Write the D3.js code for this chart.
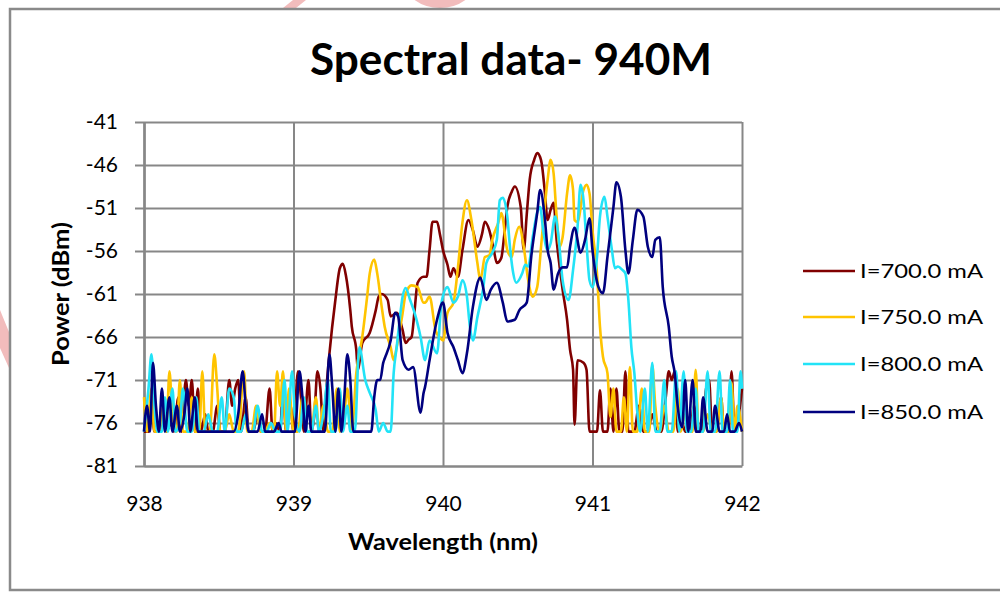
<!DOCTYPE html>
<html>
<head>
<meta charset="utf-8">
<script src="https://cdn.jsdelivr.net/npm/d3@7"></script>
<style>
  body { margin: 0; background: #fff; }
  text { font-family: Lato, "Open Sans", sans-serif; fill: #000; }
</style>
</head>
<body>
<div id="chart"></div>
<script>
// Chart data (wavelength nm, power dBm)
var xTicks = [938, 939, 940, 941, 942];
var yTicks = [-81, -76, -71, -66, -61, -56, -51, -46, -41];
var seriesNames = ["I=700.0 mA", "I=750.0 mA", "I=800.0 mA", "I=850.0 mA"];
var seriesColors = ["#800000", "#ffc400", "#22e3f7", "#00007f"];

var series700 = [[938.00,-77],[938.03,-77],[938.05,-74],[938.07,-77],[938.10,-77],[938.13,-75],[938.15,-77],[938.18,-76],[938.20,-77],[938.23,-73],[938.25,-77],[938.28,-71],[938.30,-74],[938.32,-71],[938.34,-77],[938.36,-72],[938.38,-77],[938.41,-75],[938.43,-77],[938.46,-77],[938.49,-74],[938.51,-77],[938.54,-77],[938.57,-71],[938.59,-74],[938.61,-72],[938.63,-71],[938.65,-77],[938.68,-73],[938.70,-77],[938.73,-77],[938.76,-75],[938.78,-77],[938.81,-77],[938.84,-72],[938.86,-77],[938.88,-76],[938.91,-77],[938.93,-72],[938.95,-77],[938.98,-74],[939.00,-77],[939.03,-70],[939.05,-73],[939.07,-77],[939.10,-71],[939.12,-77],[939.14,-75],[939.16,-70],[939.18,-72],[939.20,-77],[939.22,-72],[939.24,-68],[939.28,-61.7],[939.31,-58],[939.33,-57.5],[939.35,-58.8],[939.38,-62.9],[939.39,-64.8],[939.42,-67.5],[939.43,-69.8],[939.46,-66.7],[939.51,-65.5],[939.55,-62.9],[939.57,-61.3],[939.59,-61],[939.63,-61.7],[939.65,-63.6],[939.69,-63.2],[939.73,-65.2],[939.75,-66.7],[939.77,-66.3],[939.79,-66],[939.81,-62.9],[939.83,-59.7],[939.87,-59],[939.89,-59],[939.91,-55.9],[939.93,-52.6],[939.96,-52.6],[939.98,-54.1],[940.00,-55.9],[940.03,-57.6],[940.05,-59],[940.07,-58],[940.10,-59],[940.13,-55.9],[940.17,-52.4],[940.20,-53.6],[940.23,-55.5],[940.26,-54.1],[940.28,-52.6],[940.31,-53.6],[940.34,-55.9],[940.36,-57.4],[940.39,-56.8],[940.41,-54.1],[940.43,-50.9],[940.46,-49.1],[940.48,-48.5],[940.52,-50.9],[940.54,-55.9],[940.56,-51.8],[940.58,-47.7],[940.61,-45.4],[940.63,-44.6],[940.65,-45.1],[940.66,-45.8],[940.68,-48.9],[940.70,-52.4],[940.72,-51.2],[940.74,-50.4],[940.76,-54.7],[940.78,-57.8],[940.80,-60.5],[940.83,-64],[940.85,-67.5],[940.87,-69.8],[940.88,-76.2],[940.90,-68.7],[940.94,-69],[940.96,-69.8],[940.98,-77],[941.03,-77],[941.05,-72.2],[941.07,-77],[941.10,-77],[941.12,-72],[941.14,-77],[941.16,-72],[941.18,-77],[941.20,-77],[941.22,-70],[941.24,-77],[941.28,-77],[941.31,-74],[941.34,-77],[941.37,-77],[941.40,-75],[941.43,-77],[941.46,-77],[941.49,-73],[941.51,-70],[941.53,-71],[941.55,-70],[941.57,-77],[941.60,-76],[941.62,-77],[941.65,-77],[941.68,-74],[941.70,-77],[941.73,-77],[941.76,-72],[941.78,-71],[941.80,-77],[941.83,-77],[941.86,-73],[941.88,-77],[941.91,-77],[941.93,-70],[941.95,-77],[941.97,-76],[942.00,-72]];

var series750 = [[938.00,-73],[938.02,-77],[938.05,-72],[938.07,-77],[938.10,-77],[938.13,-74],[938.15,-77],[938.17,-70],[938.19,-75],[938.22,-77],[938.24,-71],[938.26,-77],[938.29,-77],[938.32,-73],[938.34,-77],[938.37,-77],[938.39,-70],[938.41,-77],[938.44,-77],[938.47,-68],[938.49,-72],[938.51,-77],[938.54,-77],[938.57,-75],[938.60,-77],[938.63,-77],[938.67,-70],[938.69,-77],[938.72,-77],[938.75,-74],[938.78,-77],[938.81,-77],[938.84,-76],[938.87,-77],[938.89,-70],[938.91,-74],[938.93,-70],[938.95,-77],[938.97,-72],[939.00,-77],[939.03,-77],[939.06,-73],[939.09,-77],[939.12,-77],[939.15,-73],[939.17,-77],[939.20,-74],[939.23,-77],[939.26,-77],[939.29,-72],[939.31,-77],[939.34,-75],[939.36,-72],[939.39,-77],[939.42,-70.2],[939.46,-66],[939.49,-61.7],[939.51,-58.6],[939.54,-57],[939.56,-58.6],[939.59,-62.5],[939.61,-64.8],[939.65,-67.2],[939.67,-68.7],[939.69,-67.2],[939.73,-63.2],[939.75,-61],[939.79,-60],[939.83,-60.2],[939.87,-62],[939.88,-62],[939.91,-61.3],[939.95,-65.2],[939.98,-66.1],[940.00,-66.4],[940.03,-63.2],[940.07,-62],[940.10,-57.9],[940.13,-52.7],[940.16,-50.1],[940.19,-52.4],[940.23,-57.4],[940.25,-59.4],[940.28,-56.7],[940.31,-56.5],[940.33,-54.7],[940.37,-52.7],[940.39,-51.6],[940.43,-55.9],[940.46,-56.7],[940.48,-54.7],[940.51,-53.2],[940.54,-55.5],[940.57,-59.4],[940.60,-61.3],[940.63,-60.2],[940.66,-54.7],[940.70,-47.7],[940.72,-45.4],[940.74,-47],[940.76,-52],[940.78,-55.5],[940.80,-54.4],[940.83,-49.3],[940.85,-47.2],[940.87,-48.9],[940.88,-52.4],[940.90,-52.6],[940.94,-48.9],[940.96,-48.3],[940.98,-49.3],[941.00,-53.6],[941.03,-58.6],[941.05,-64.8],[941.07,-68.3],[941.10,-70.2],[941.12,-75.3],[941.14,-72],[941.16,-77],[941.19,-77],[941.21,-73],[941.23,-77],[941.25,-69.5],[941.27,-77],[941.30,-77],[941.33,-72],[941.35,-77],[941.38,-77],[941.40,-69.3],[941.42,-74],[941.45,-77],[941.48,-74],[941.51,-77],[941.54,-77],[941.57,-72],[941.59,-77],[941.62,-75],[941.65,-77],[941.67,-77],[941.69,-69.8],[941.71,-77],[941.74,-77],[941.77,-75],[941.80,-77],[941.83,-77],[941.86,-73],[941.88,-77],[941.91,-77],[941.93,-71.3],[941.95,-77],[941.97,-74],[942.00,-77]];

var series800 = [[938.00,-77],[938.03,-72],[938.05,-68],[938.07,-74],[938.09,-77],[938.12,-77],[938.14,-73],[938.16,-77],[938.19,-72],[938.21,-77],[938.24,-76],[938.26,-72],[938.29,-77],[938.32,-77],[938.35,-73],[938.37,-77],[938.40,-77],[938.43,-75],[938.46,-77],[938.49,-77],[938.52,-73],[938.54,-77],[938.57,-72],[938.60,-73],[938.62,-77],[938.65,-77],[938.68,-75],[938.70,-77],[938.73,-77],[938.76,-74],[938.79,-77],[938.82,-77],[938.85,-76],[938.88,-77],[938.91,-77],[938.94,-71],[938.96,-77],[938.99,-70],[939.01,-75],[939.04,-77],[939.07,-73],[939.09,-77],[939.12,-77],[939.15,-74],[939.17,-77],[939.20,-75],[939.23,-71],[939.25,-77],[939.28,-77],[939.31,-72],[939.33,-77],[939.36,-74],[939.38,-77],[939.41,-77],[939.44,-67.2],[939.48,-71],[939.51,-72.5],[939.55,-74.5],[939.57,-77],[939.60,-76],[939.63,-77],[939.65,-77],[939.67,-70.2],[939.69,-67.2],[939.71,-64],[939.73,-61.3],[939.75,-60.3],[939.78,-61.7],[939.81,-63.2],[939.85,-66],[939.88,-68.7],[939.91,-66.4],[939.96,-67.9],[939.99,-62],[940.03,-60.2],[940.07,-62],[940.10,-61.3],[940.13,-59.4],[940.16,-61.3],[940.18,-64.8],[940.20,-66.4],[940.23,-63.7],[940.27,-60.2],[940.29,-57.4],[940.33,-56.2],[940.36,-54.7],[940.38,-50.1],[940.40,-49.8],[940.43,-52],[940.45,-55.9],[940.47,-58.6],[940.49,-59.7],[940.53,-58.6],[940.55,-57.6],[940.57,-57.8],[940.60,-54.4],[940.63,-51.5],[940.65,-50.9],[940.67,-53.6],[940.70,-55.9],[940.72,-55.1],[940.75,-52],[940.77,-53.9],[940.80,-59.4],[940.84,-61.7],[940.87,-58.2],[940.90,-53.2],[940.92,-48.3],[940.94,-50.1],[940.96,-55.1],[940.98,-59.4],[941.00,-60.2],[941.03,-56.7],[941.05,-52],[941.08,-49.7],[941.10,-52],[941.13,-55.9],[941.15,-58],[941.17,-57.8],[941.20,-58.2],[941.22,-58.6],[941.24,-61.7],[941.26,-67.2],[941.28,-70.2],[941.30,-74.8],[941.32,-77],[941.35,-72],[941.37,-77],[941.40,-69],[941.42,-77],[941.45,-77],[941.48,-71],[941.50,-77],[941.53,-77],[941.56,-70],[941.58,-77],[941.61,-70],[941.63,-77],[941.66,-77],[941.69,-72],[941.71,-77],[941.74,-77],[941.77,-70],[941.79,-77],[941.82,-77],[941.85,-70],[941.87,-77],[941.90,-77],[941.92,-71],[941.94,-77],[941.97,-77],[941.99,-70],[942.00,-72]];

var series850 = [[938.00,-77],[938.02,-74],[938.04,-77],[938.06,-69],[938.08,-74],[938.10,-77],[938.12,-72],[938.14,-77],[938.17,-73],[938.19,-77],[938.22,-74],[938.24,-77],[938.27,-75],[938.29,-72],[938.31,-77],[938.34,-73],[938.36,-77],[938.39,-77],[938.42,-77],[938.45,-77],[938.48,-77],[938.51,-77],[938.54,-77],[938.57,-77],[938.60,-77],[938.63,-75],[938.66,-70],[938.68,-74],[938.70,-77],[938.73,-77],[938.76,-77],[938.79,-75],[938.81,-77],[938.84,-77],[938.87,-77],[938.90,-76],[938.92,-77],[938.95,-77],[938.98,-77],[939.01,-77],[939.04,-70],[939.06,-73],[939.08,-77],[939.10,-74],[939.12,-77],[939.15,-77],[939.18,-77],[939.21,-77],[939.24,-68],[939.26,-72],[939.28,-77],[939.30,-72],[939.32,-77],[939.34,-73],[939.36,-68],[939.38,-71],[939.40,-77],[939.43,-77],[939.46,-77],[939.49,-77],[939.52,-77],[939.54,-73],[939.56,-71],[939.58,-71],[939.60,-69],[939.61,-68.5],[939.65,-66.4],[939.68,-63.2],[939.70,-63.6],[939.73,-68.7],[939.77,-69.8],[939.80,-69.5],[939.85,-74.8],[939.87,-72.5],[939.88,-71.8],[939.91,-68.7],[939.96,-64],[940.00,-62],[940.03,-65.5],[940.07,-67.2],[940.10,-68.7],[940.13,-70.2],[940.16,-67.9],[940.20,-62.5],[940.25,-59.1],[940.29,-61.7],[940.32,-60.5],[940.36,-59.7],[940.40,-62],[940.43,-64.2],[940.48,-64],[940.51,-62.9],[940.56,-62],[940.59,-56.7],[940.63,-51.6],[940.65,-48.9],[940.68,-52],[940.70,-55.9],[940.72,-57.4],[940.74,-60.5],[940.77,-58.6],[940.80,-57.9],[940.83,-57.9],[940.85,-55.5],[940.88,-53.3],[940.92,-56.2],[940.95,-54.7],[940.98,-52.2],[941.00,-55.9],[941.04,-60.2],[941.07,-60.9],[941.10,-56.7],[941.14,-50.9],[941.16,-48],[941.19,-49.7],[941.22,-55.9],[941.24,-58.6],[941.27,-54.7],[941.30,-51.2],[941.34,-52],[941.37,-55.5],[941.40,-56.7],[941.42,-54.7],[941.45,-54.4],[941.47,-60.2],[941.51,-64.8],[941.53,-68.3],[941.55,-70.2],[941.57,-74.1],[941.60,-76.5],[941.62,-71],[941.64,-77],[941.67,-71],[941.69,-77],[941.72,-77],[941.74,-73],[941.77,-77],[941.80,-77],[941.82,-74],[941.85,-77],[941.88,-77],[941.90,-75],[941.92,-77],[941.95,-77],[941.98,-76],[942.00,-77]];

var allSeries = [series700, series750, series800, series850];

// Define SVG area and plot box
var svgWidth = 1000;
var svgHeight = 593;
var margin = { top: 122, right: 258, bottom: 127, left: 144 };
var chartWidth = svgWidth - margin.left - margin.right;
var chartHeight = svgHeight - margin.top - margin.bottom;
var gridColor = "#878787";

var svg = d3.select("#chart")
  .append("svg")
  .attr("width", svgWidth)
  .attr("height", svgHeight);

// Pale watermark fragments
svg.append("polygon")
  .attr("points", "293,0 306,0 296,8 283,8")
  .attr("fill", "#f2bcbc");
svg.append("circle")
  .attr("cx", 440).attr("cy", -36).attr("r", 40)
  .attr("fill", "none").attr("stroke", "#f2bcbc").attr("stroke-width", 8);
svg.append("polygon")
  .attr("points", "0,310 9,332 9,368 0,348")
  .attr("fill", "#f2bcbc");

// Outer frame
svg.append("rect")
  .attr("x", 10).attr("y", 9)
  .attr("width", 1000).attr("height", 581)
  .attr("fill", "none")
  .attr("stroke", "#8a8a8a")
  .attr("stroke-width", 2.5);

var chartGroup = svg.append("g")
  .attr("transform", `translate(${margin.left}, ${margin.top})`);

var xScale = d3.scaleLinear().domain([938, 942]).range([0, chartWidth]);
var yScale = d3.scaleLinear().domain([-81, -41]).range([chartHeight, 0]);

// Horizontal grid + y labels (plain hyphen minus, as in the original)
var yGrid = chartGroup.append("g")
  .call(d3.axisLeft(yScale).tickValues(yTicks).tickSize(-chartWidth).tickSizeOuter(0)
    .tickPadding(26).tickFormat(d => String(d)));
// outward tick marks
var yMarks = chartGroup.append("g")
  .call(d3.axisLeft(yScale).tickValues(yTicks).tickSize(9).tickSizeOuter(0).tickFormat(""));

// Vertical grid + x labels
var xGrid = chartGroup.append("g")
  .attr("transform", `translate(0, ${chartHeight})`)
  .call(d3.axisBottom(xScale).tickValues(xTicks).tickSize(-chartHeight).tickSizeOuter(0)
    .tickPadding(30).tickFormat(d => String(d)));

[yGrid, yMarks, xGrid].forEach(function(g) {
  g.selectAll("line").attr("stroke", gridColor).attr("stroke-width", 2);
  g.selectAll(".domain").attr("stroke", gridColor).attr("stroke-width", 2);
  g.selectAll("text").attr("font-size", 21).attr("fill", "#000")
    .style("font-family", "Lato, 'Open Sans', sans-serif");
});

// Series lines
var line = d3.line()
  .x(d => xScale(d[0]))
  .y(d => yScale(d[1]))
  .curve(d3.curveMonotoneX);

chartGroup.selectAll(".series")
  .data(allSeries)
  .enter()
  .append("path")
  .attr("class", "series")
  .attr("d", line)
  .attr("fill", "none")
  .attr("stroke", (d, i) => seriesColors[i])
  .attr("stroke-width", 2.6)
  .attr("stroke-linejoin", "round");

// Title (the original is slightly stretched sideways)
svg.append("text")
  .attr("x", 511)
  .attr("y", 75)
  .attr("text-anchor", "middle")
  .attr("font-size", 43)
  .attr("font-weight", "bold")
  .attr("textLength", 402)
  .attr("lengthAdjust", "spacingAndGlyphs")
  .text("Spectral data- 940M");

// Axis titles
svg.append("text")
  .attr("x", margin.left + chartWidth / 2)
  .attr("y", 550)
  .attr("text-anchor", "middle")
  .attr("font-size", 22)
  .attr("font-weight", "bold")
  .attr("textLength", 190)
  .attr("lengthAdjust", "spacingAndGlyphs")
  .text("Wavelength (nm)");

svg.append("text")
  .attr("transform", `translate(69, ${margin.top + chartHeight / 2}) rotate(-90)`)
  .attr("text-anchor", "middle")
  .attr("font-size", 22)
  .attr("font-weight", "bold")
  .attr("textLength", 144)
  .attr("lengthAdjust", "spacingAndGlyphs")
  .text("Power (dBm)");

// Legend
var legendRows = [271, 317, 364, 412];
var legend = svg.selectAll(".legend")
  .data(seriesNames)
  .enter()
  .append("g")
  .attr("class", "legend")
  .attr("transform", (d, i) => `translate(803, ${legendRows[i]})`);

legend.append("line")
  .attr("x1", 0).attr("x2", 52)
  .attr("y1", 0).attr("y2", 0)
  .attr("stroke", (d, i) => seriesColors[i])
  .attr("stroke-width", 2.6);

legend.append("text")
  .attr("x", 57)
  .attr("y", 7)
  .attr("font-size", 20)
  .attr("textLength", 123)
  .attr("lengthAdjust", "spacingAndGlyphs")
  .text(d => d);
</script>
</body>
</html>
